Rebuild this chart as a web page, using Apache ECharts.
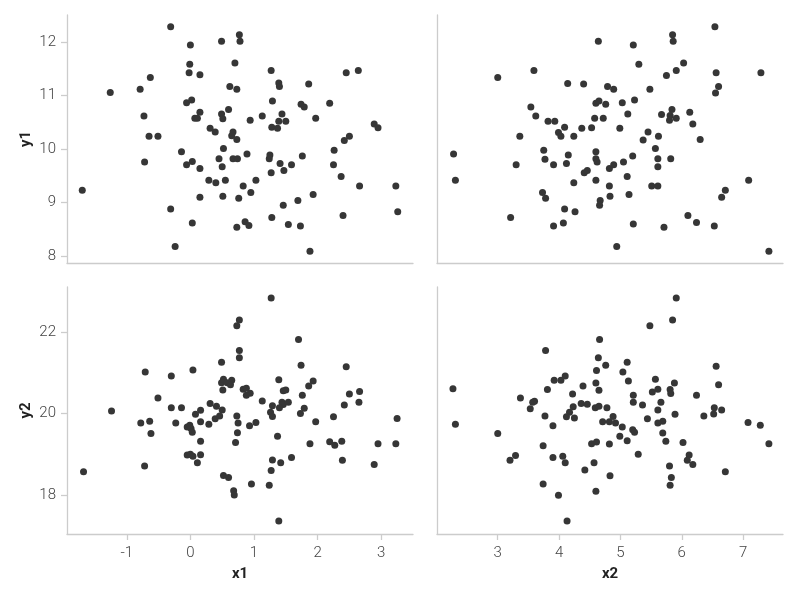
<!DOCTYPE html>
<html>
<head>
<meta charset="utf-8">
<script src="https://cdn.jsdelivr.net/npm/echarts@6/dist/echarts.min.js"></script>
<style>
html,body{margin:0;padding:0;background:#fff;}
#chart{width:800px;height:600px;}
</style>
</head>
<body>
<div id="chart"></div>
<script>
// ---- data (pairs per panel) ----
const x1_y1 = [[-0.31,12.29],[0.00,11.95],[0.49,12.02],[0.77,12.14],[0.78,12.02],[-0.01,11.59],[0.70,11.61],[-0.02,11.43],[0.15,11.39],[-0.63,11.34],[-1.26,11.06],[-0.79,11.12],[0.62,11.17],[0.73,11.12],[-0.06,10.87],[0.02,10.92],[0.15,10.69],[0.07,10.58],[0.11,10.58],[0.49,10.66],[0.60,10.74],[0.51,10.57],[-0.73,10.62],[-0.65,10.24],[-0.51,10.24],[0.31,10.39],[0.39,10.32],[0.67,10.32],[0.65,10.25],[0.73,10.18],[0.52,10.01],[-0.14,9.95],[-0.72,9.76],[-0.06,9.71],[0.03,9.77],[0.15,9.64],[0.45,9.82],[0.50,9.67],[0.67,9.82],[0.74,9.82],[0.29,9.42],[0.40,9.37],[0.55,9.42],[0.15,9.10],[0.51,9.12],[0.76,9.08],[-1.70,9.23],[-0.31,8.88],[0.03,8.62],[0.73,8.54],[-0.24,8.18],
[0.83,9.31],[0.95,9.19],[1.03,9.42],[0.89,9.91],[0.94,10.54],[1.13,10.62],[1.27,11.47],[1.29,10.90],[1.39,11.24],[1.40,11.17],[1.44,10.66],[1.39,10.52],[1.50,10.52],[1.28,10.41],[1.37,10.39],[1.86,11.22],[1.74,10.84],[1.79,10.79],[2.19,10.86],[1.97,10.58],[2.45,11.43],[2.64,11.47],[2.89,10.47],[2.95,10.40],[2.50,10.24],[2.42,10.16],[2.26,9.98],[2.25,9.71],[2.37,9.49],[2.66,9.31],[3.23,9.31],[3.26,8.83],[2.40,8.76],[1.76,9.87],[1.24,9.82],[1.25,9.89],[1.41,9.73],[1.59,9.71],[1.47,9.60],[1.27,9.56],[1.93,9.15],[1.69,9.04],[1.46,8.95],[1.28,8.72],[1.54,8.59],[1.73,8.56],[0.86,8.64],[0.92,8.57],[1.88,8.09]];

const x2_y1 = [[4.64,12.02],[3.59,11.47],[3.00,11.34],[4.14,11.23],[4.40,11.22],[4.79,11.17],[4.89,11.12],[4.60,10.86],[4.65,10.90],[4.76,10.84],[3.54,10.79],[3.62,10.62],[3.82,10.52],[3.93,10.52],[4.58,10.58],[4.72,10.58],[4.09,10.41],[3.99,10.31],[4.03,10.24],[4.24,10.24],[4.37,10.39],[4.53,10.40],[3.36,10.24],[2.28,9.91],[3.75,9.98],[3.77,9.81],[3.91,9.71],[4.15,9.89],[4.12,9.73],[4.60,9.95],[4.60,9.82],[4.62,9.76],[3.30,9.71],[4.82,9.64],[4.89,9.71],[4.41,9.56],[4.46,9.60],[2.31,9.42],[4.24,9.37],[4.60,9.42],[4.82,9.31],[4.83,9.12],[3.73,9.19],[3.78,9.08],[4.67,9.04],[4.66,8.95],[4.09,8.88],[4.26,8.83],[3.21,8.72],[3.91,8.56],[4.07,8.62],
[6.54,12.29],[5.85,12.14],[5.86,12.02],[5.21,11.95],[5.30,11.59],[6.03,11.61],[5.91,11.47],[5.75,11.38],[6.56,11.43],[7.29,11.43],[6.60,11.17],[6.55,11.05],[5.48,11.12],[5.03,10.87],[5.23,10.92],[5.12,10.66],[4.99,10.39],[5.67,10.65],[5.84,10.74],[5.81,10.63],[5.80,10.54],[5.91,10.58],[6.13,10.69],[6.18,10.47],[5.45,10.32],[5.37,10.17],[5.62,10.24],[6.30,10.18],[5.57,10.01],[5.61,9.82],[5.61,9.67],[5.82,9.82],[5.20,9.87],[5.05,9.76],[5.11,9.49],[5.14,9.15],[5.51,9.31],[5.61,9.31],[7.09,9.42],[6.71,9.23],[6.65,9.10],[6.10,8.76],[6.24,8.63],[6.53,8.56],[5.21,8.60],[5.71,8.54],[4.94,8.18],[7.42,8.09]];

const x1_y2 = [[0.73,22.16],[0.77,22.30],[0.77,21.55],[0.77,21.37],[0.49,21.26],[0.04,21.07],[-0.71,21.02],[-0.30,20.92],[0.49,20.76],[0.52,20.84],[0.58,20.76],[0.65,20.82],[0.63,20.71],[0.51,20.58],[-0.51,20.38],[-1.24,20.06],[-0.30,20.14],[-0.14,20.14],[0.31,20.25],[0.41,20.18],[0.50,20.09],[0.08,19.98],[0.16,20.08],[0.39,19.87],[0.46,19.94],[0.73,19.94],[0.75,19.77],[-0.78,19.77],[-0.64,19.81],[-0.62,19.51],[-0.23,19.77],[-0.05,19.67],[-0.01,19.71],[0.01,19.63],[0.03,19.54],[0.16,19.80],[0.29,19.74],[0.74,19.53],[0.71,19.29],[0.16,19.32],[-0.05,18.98],[0.00,19.00],[0.04,18.95],[0.16,18.99],[0.11,18.79],[-0.72,18.71],[-1.68,18.57],[0.52,18.48],[0.60,18.43],[0.68,18.10],[0.69,18.00],
[1.27,22.84],[1.70,21.82],[1.74,21.19],[2.45,21.15],[1.39,20.83],[1.46,20.56],[1.50,20.58],[1.93,20.80],[1.86,20.68],[1.76,20.45],[0.83,20.60],[0.88,20.62],[0.94,20.50],[0.88,20.45],[1.13,20.31],[1.29,20.19],[1.26,20.03],[1.29,19.93],[1.44,20.28],[1.46,20.22],[1.54,20.28],[1.40,20.14],[1.79,20.13],[1.73,20.00],[2.50,20.48],[2.66,20.54],[2.65,20.28],[2.42,20.21],[2.25,19.92],[1.97,19.80],[3.25,19.88],[0.93,19.70],[1.03,19.78],[1.37,19.44],[1.88,19.26],[2.19,19.31],[2.27,19.22],[2.38,19.32],[2.95,19.26],[3.23,19.26],[2.39,18.85],[2.89,18.75],[1.29,18.86],[1.42,18.79],[1.59,18.92],[1.27,18.60],[0.96,18.27],[1.24,18.24],[1.39,17.36]];

const x2_y2 = [[4.66,21.82],[3.78,21.55],[4.64,21.37],[4.76,21.19],[4.61,21.06],[4.10,20.92],[4.03,20.82],[3.92,20.82],[2.27,20.61],[4.60,20.75],[4.65,20.57],[4.39,20.68],[3.81,20.59],[4.22,20.48],[3.37,20.38],[3.60,20.30],[3.57,20.28],[3.53,20.12],[4.36,20.25],[4.46,20.23],[4.23,20.17],[4.59,20.14],[4.65,20.18],[4.78,20.14],[4.17,20.03],[4.12,19.92],[3.77,19.94],[4.25,19.89],[4.71,19.80],[4.82,19.80],[3.90,19.70],[2.31,19.74],[3.00,19.51],[4.53,19.26],[4.61,19.30],[4.82,19.25],[3.74,19.21],[3.29,18.97],[3.20,18.85],[3.90,18.92],[4.06,18.95],[4.10,18.79],[4.57,18.79],[4.42,18.61],[4.83,18.47],[3.74,18.27],[3.99,17.99],[4.60,18.09],[4.13,17.36],
[5.91,22.84],[5.85,22.30],[5.48,22.16],[5.11,21.26],[5.04,21.02],[5.13,20.80],[6.56,21.16],[6.60,20.71],[5.57,20.84],[5.52,20.53],[5.61,20.60],[5.88,20.75],[5.81,20.59],[5.82,20.49],[5.21,20.45],[5.21,20.28],[6.24,20.45],[5.36,20.21],[5.66,20.28],[5.61,20.09],[5.89,19.98],[5.44,19.87],[5.69,19.81],[5.61,19.77],[6.36,19.94],[6.53,20.14],[6.52,19.99],[6.65,20.09],[7.08,19.78],[7.28,19.71],[7.42,19.26],[4.88,19.93],[4.92,19.77],[5.03,19.67],[5.20,19.60],[5.23,19.54],[4.99,19.44],[5.11,19.33],[5.69,19.52],[5.74,19.32],[6.02,19.29],[5.29,19.00],[6.12,18.98],[6.09,18.85],[6.18,18.75],[6.71,18.57],[5.80,18.71],[5.83,18.43],[5.81,18.24]];

// axis extents and tick labels
const x1Range = [-1.94, 3.50];
const x2Range = [2.01, 7.65];
const y1Range = [7.87, 12.51];
const y2Range = [17.04, 23.11];
const x1Ticks = [-1, 0, 1, 2, 3];
const x2Ticks = [3, 4, 5, 6, 7];
const y1Ticks = [8, 9, 10, 11, 12];
const y2Ticks = [18, 20, 22];
const xNames = ['x1', 'x2'];
const yNames = ['y1', 'y2'];

// ---- styling ----
const AXIS_COLOR = '#cccccc';
const LABEL_FONT = 'Roboto';
const labelStyle = {color: '#444444', fontFamily: LABEL_FONT, fontSize: 15, fontWeight: 300};
const nameStyle = {color: '#222222', fontFamily: LABEL_FONT, fontSize: 15, fontWeight: 'bold'};

function makeAxis(kind, gridIndex, range, ticks, showLabels, name) {
  const ax = {
    type: 'value', gridIndex: gridIndex, min: range[0], max: range[1],
    axisLine: {show: true, onZero: false, lineStyle: {color: AXIS_COLOR, width: 1.3}},
    splitLine: {show: false},
    axisTick: {show: showLabels, length: 6, lineStyle: {color: AXIS_COLOR, width: 1.3}, customValues: ticks},
    axisLabel: {show: showLabels, customValues: ticks, margin: kind === 'x' ? 12 : 11, ...labelStyle},
  };
  if (name) {
    ax.name = name; ax.nameLocation = 'middle'; ax.nameGap = 33; ax.nameTextStyle = nameStyle;
  }
  return ax;
}

const grids = [
  {left: 67, top: 15, width: 346, height: 248},
  {left: 437, top: 15, width: 346, height: 248},
  {left: 67, top: 287, width: 346, height: 247},
  {left: 437, top: 287, width: 346, height: 247}
];

const xAxes = [
  makeAxis('x', 0, x1Range, x1Ticks, false, null),
  makeAxis('x', 1, x2Range, x2Ticks, false, null),
  makeAxis('x', 2, x1Range, x1Ticks, true, xNames[0]),
  makeAxis('x', 3, x2Range, x2Ticks, true, xNames[1])
];
const yAxes = [
  makeAxis('y', 0, y1Range, y1Ticks, true, yNames[0]),
  makeAxis('y', 1, y1Range, y1Ticks, false, null),
  makeAxis('y', 2, y2Range, y2Ticks, true, yNames[1]),
  makeAxis('y', 3, y2Range, y2Ticks, false, null)
];

const panels = [x1_y1, x2_y1, x1_y2, x2_y2];
const series = panels.map((d, i) => ({
  type: 'scatter', xAxisIndex: i, yAxisIndex: i, data: d,
  symbol: 'circle', symbolSize: 7,
  itemStyle: {color: '#363636', opacity: 1},
  silent: true, animation: false
}));

const chart = echarts.init(document.getElementById('chart'), null, {renderer: 'canvas'});
chart.setOption({
  backgroundColor: '#ffffff',
  animation: false,
  grid: grids,
  xAxis: xAxes,
  yAxis: yAxes,
  series: series
});
</script>
</body>
</html>
